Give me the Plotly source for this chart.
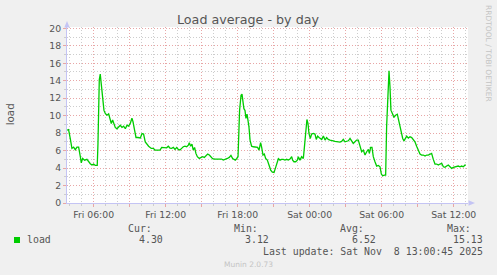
import plotly.graph_objects as go
from datetime import datetime, timedelta

# ---------------- data ----------------
base_day = "2025-11-07"          # Friday
hours = [
    3.78, 3.91, 4.05, 4.19, 4.33, 4.47, 4.61, 4.75, 4.89, 4.97, 5.08, 5.25, 5.44, 5.58, 5.72, 5.86,
    6.00, 6.14, 6.30, 6.36, 6.47, 6.55, 6.64, 6.75, 6.86, 6.97, 7.11, 7.25, 7.39, 7.47, 7.58, 7.69,
    7.80, 7.94, 8.08, 8.22, 8.36, 8.50, 8.64, 8.78, 8.91, 9.05, 9.19, 9.28, 9.41, 9.53, 9.69, 9.89,
    10.03, 10.16, 10.30, 10.44, 10.58, 10.80, 10.97, 11.11, 11.25, 11.39, 11.53, 11.67, 11.80, 11.94,
    12.08, 12.22, 12.36, 12.50, 12.64, 12.78, 12.92, 13.05, 13.19, 13.33, 13.47, 13.61, 13.75, 13.89,
    13.97, 14.08, 14.19, 14.30, 14.41, 14.52, 14.64, 14.80, 14.94, 15.08, 15.22, 15.36, 15.50, 15.64,
    15.77, 15.91, 16.11, 16.39, 16.66, 16.80, 16.94, 17.14, 17.30, 17.44, 17.58, 17.69, 17.80, 17.91,
    18.03, 18.16, 18.28, 18.36, 18.44, 18.52, 18.61, 18.69, 18.78, 18.86, 18.94, 19.03, 19.16, 19.30,
    19.50, 19.66, 19.78, 19.91, 20.00, 20.11, 20.22, 20.33, 20.47, 20.61, 20.75, 20.89, 21.03, 21.14,
    21.28, 21.39, 21.53, 21.66, 21.80, 21.94, 22.08, 22.22, 22.36, 22.50, 22.58, 22.69, 22.83, 22.97,
    23.05, 23.19, 23.33, 23.47, 23.55, 23.66, 23.77, 23.86, 23.94, 24.05, 24.16, 24.30, 24.44, 24.55,
    24.66, 24.78, 25.00, 25.14, 25.28, 25.41, 25.55, 25.69, 25.83, 25.97, 26.11, 26.25, 26.39, 26.52,
    26.66, 26.80, 26.94, 27.08, 27.22, 27.36, 27.50, 27.63, 27.77, 27.91, 28.05, 28.19, 28.33, 28.47,
    28.61, 28.75, 28.89, 28.97, 29.08, 29.19, 29.30, 29.44, 29.58, 29.72, 29.86, 29.97, 30.08, 30.22,
    30.33, 30.41, 30.52, 30.61, 30.69, 30.77, 30.89, 31.02, 31.16, 31.30, 31.41, 31.52, 31.64, 31.75,
    31.86, 31.97, 32.08, 32.22, 32.36, 32.50, 32.63, 32.77, 32.91, 33.05, 33.19, 33.33, 33.47, 33.61,
    33.75, 33.88, 34.02, 34.16, 34.30, 34.44, 34.58, 34.72, 34.86, 35.00, 35.14, 35.27, 35.41, 35.55,
    35.69, 35.83, 35.97, 36.11, 36.25, 36.38, 36.52, 36.66, 36.80, 36.94, 37.00,
]
load = [
    8.34, 8.40, 7.40, 6.25, 6.40, 6.10, 6.40, 6.40, 5.30, 4.60, 5.10, 4.90, 5.00, 4.70, 4.50, 4.35,
    4.45, 4.30, 4.30, 6.80, 14.10, 14.75, 13.30, 11.80, 10.60, 10.25, 10.05, 10.20, 9.55, 9.10, 9.50, 8.90,
    8.65, 8.50, 8.70, 8.90, 8.65, 8.80, 8.50, 8.90, 8.80, 9.10, 9.70, 9.30, 8.35, 7.50, 7.50, 7.45,
    7.95, 7.90, 7.00, 6.75, 6.50, 6.25, 6.25, 6.06, 6.06, 6.00, 6.06, 6.36, 6.36, 6.36,
    6.32, 6.50, 6.29, 6.25, 6.36, 6.13, 6.36, 6.13, 6.06, 6.25, 6.44, 6.50, 6.44, 6.63,
    6.90, 6.50, 6.74, 6.06, 6.36, 5.68, 5.30, 5.10, 5.22, 5.30, 5.22, 5.37, 5.60, 5.49,
    5.22, 5.07, 5.03, 5.03, 5.03, 4.91, 5.03, 5.10, 5.22, 5.45, 5.10, 4.99, 4.91, 5.07,
    5.30, 10.60, 12.34, 12.46, 11.77, 10.80, 10.60, 9.68, 10.17, 9.56, 8.72, 7.20, 6.50, 6.44,
    6.36, 6.36, 6.06, 6.90, 6.36, 5.49, 5.60, 5.10, 4.91, 4.23, 3.77, 3.54, 3.50, 3.96,
    4.72, 5.07, 4.91, 5.00, 5.00, 4.91, 5.00, 4.91, 5.03, 5.30, 4.91, 4.72, 4.72, 4.91,
    5.30, 4.91, 5.30, 5.10, 6.25, 8.15, 9.56, 9.10, 7.96, 7.39, 7.89, 7.96, 7.89, 7.28,
    7.66, 7.50, 7.28, 7.66, 7.20, 7.50, 7.28, 7.20, 7.20, 7.12, 7.05, 7.01, 7.05, 6.97,
    7.05, 7.28, 7.01, 7.05, 7.12, 7.39, 7.12, 6.82, 7.01, 7.20, 7.20, 6.51, 5.87, 6.06,
    5.49, 5.87, 6.13, 5.68, 6.36, 6.36, 5.30, 4.72, 4.23, 4.30, 4.15, 3.31, 3.12, 3.20,
    3.20, 8.72, 13.68, 15.13, 13.30, 10.63, 10.25, 9.79, 10.06, 10.17, 9.49, 8.72, 7.96, 7.39,
    7.12, 7.39, 7.66, 7.43, 7.58, 7.50, 7.20, 7.01, 6.51, 6.13, 5.60, 5.49, 5.49, 5.37,
    5.49, 5.49, 5.60, 5.68, 4.99, 4.46, 4.46, 4.34, 4.46, 4.53, 4.15, 4.08, 4.23, 4.34,
    4.15, 3.96, 4.08, 4.15, 4.15, 4.23, 4.15, 4.23, 4.15, 4.34, 4.30,
]
x_range_hours = [3.78, 37.19]
major_tick_hours = [6, 9, 12, 15, 18, 21, 24, 27, 30, 33, 36]
major_tick_text = ["Fri 06:00", "", "Fri 12:00", "", "Fri 18:00", "", "Sat 00:00", "",
                   "Sat 06:00", "", "Sat 12:00"]
series_name = "load"
stat_labels = ["Cur:", "Min:", "Avg:", "Max:"]
stat_values = ["4.30", "3.12", "6.52", "15.13"]
last_update = "Last update: Sat Nov  8 13:00:45 2025"
title_text = "Load average - by day"
y_title = "load"
side_text = "RRDTOOL / TOBI OETIKER"
footer = "Munin 2.0.73"

# ---------------- helpers ----------------
t0 = datetime.fromisoformat(base_day)
def ts(h):
    return t0 + timedelta(hours=h)

W, H = 497, 275
L, R, T, B = 67, 468, 27, 203
def px(x):
    return (x - L) / (R - L)
def py(y):
    return (B - y) / (B - T)

GREEN = "#00CC00"
MAJ = "#E8A6A6"
MIN = "#CDCDCD"
AXC = "#C4C4F4"
TXT = "#555555"

fig = go.Figure()
fig.add_trace(go.Scatter(
    x=[ts(h) for h in hours], y=load, mode="lines",
    line=dict(color=GREEN, width=1.3), name=series_name, showlegend=False,
    hoverinfo="skip",
))

fig.update_layout(
    width=W, height=H,
    margin=dict(l=L, r=W - R, t=T, b=H - B, pad=0),
    paper_bgcolor="#F0F0F0", plot_bgcolor="#FFFFFF",
    font=dict(family="DejaVu Sans", color=TXT, size=9.3),
    title=dict(text=title_text, x=248 / W, y=1 - 19.5 / H, xref="container", yref="container",
               xanchor="center", yanchor="middle",
               font=dict(family="DejaVu Sans", size=12.7, color=TXT)),
    showlegend=False,
)

fig.update_xaxes(
    type="date", range=[ts(x_range_hours[0]), ts(x_range_hours[1])],
    tickmode="array", tickvals=[ts(h) for h in major_tick_hours], ticktext=major_tick_text,
    ticks="outside", ticklen=3, tickcolor=MAJ, tickwidth=1,
    showgrid=True, gridcolor=MAJ, griddash="1px,2px", gridwidth=1,
    showline=True, linecolor=AXC, linewidth=1, zeroline=False,
    tickfont=dict(size=9.3, color=TXT, family="DejaVu Sans"),
    minor=dict(tickmode="linear", tick0=ts(0), dtick=3600000, showgrid=True,
               gridcolor=MIN, griddash="1px,2px", gridwidth=1,
               ticks="outside", ticklen=2, tickcolor=MIN),
    fixedrange=True,
)
fig.update_yaxes(
    range=[0, 20.15], tickmode="linear", tick0=0, dtick=2,
    ticks="outside", ticklen=3, tickcolor=MAJ, tickwidth=1,
    showgrid=True, gridcolor=MAJ, griddash="1px,2px", gridwidth=1,
    showline=True, linecolor=AXC, linewidth=1, zeroline=False,
    tickfont=dict(size=9.3, color=TXT, family="DejaVu Sans"),
    minor=dict(tickmode="linear", tick0=0, dtick=1, showgrid=True,
               gridcolor=MIN, griddash="1px,2px", gridwidth=1,
               ticks="outside", ticklen=2, tickcolor=MIN),
    fixedrange=True,
)

def ann(text, x, y, xanchor="left", size=9.9, color=TXT, family="DejaVu Sans Mono", angle=0):
    fig.add_annotation(text=text, x=px(x), y=py(y), xref="paper", yref="paper",
                       xanchor=xanchor, yanchor="middle", showarrow=False,
                       borderpad=0, borderwidth=0, textangle=angle,
                       font=dict(size=size, color=color, family=family))

# y axis title
ann(y_title, 10.3, 114, xanchor="center", size=10.3, family="DejaVu Sans", angle=-90)
# side text
ann(side_text, 488.5, 53.5, xanchor="center", size=7.5, color="#C4C4C4", family="DejaVu Sans", angle=90)
# legend
ann(series_name, 26.7, 239.5)
stat_label_x = [127.7, 234.0, 340.0, 446.7]
stat_value_right = [162.7, 269.3, 376.0, 482.7]
for lbl, lx in zip(stat_labels, stat_label_x):
    ann(lbl, lx, 228)
for val, vx in zip(stat_values, stat_value_right):
    ann(val, vx, 239.5, xanchor="right")
ann(last_update, 482.7, 251.7, xanchor="right")
ann(footer, 248, 264, xanchor="center", size=7.5, color="#C4C4C4", family="DejaVu Sans")

# legend swatch
fig.add_shape(type="rect", xref="paper", yref="paper",
              x0=px(14), x1=px(20), y0=py(243), y1=py(237),
              fillcolor=GREEN, line=dict(width=0), layer="above")

# axis arrows
def tri(p1, p2, p3):
    pts = [p1, p2, p3]
    return "M " + " L ".join(f"{px(a):.5f},{py(b):.5f}" for a, b in pts) + " Z"

fig.add_shape(type="path", xref="paper", yref="paper",
              path=tri((67, 21), (64.3, 27.5), (69.7, 27.5)),
              fillcolor=AXC, line=dict(width=0), layer="above")
fig.add_shape(type="path", xref="paper", yref="paper",
              path=tri((475, 203), (468.5, 200.3), (468.5, 205.7)),
              fillcolor=AXC, line=dict(width=0), layer="above")

fig.write_html("out.html")
